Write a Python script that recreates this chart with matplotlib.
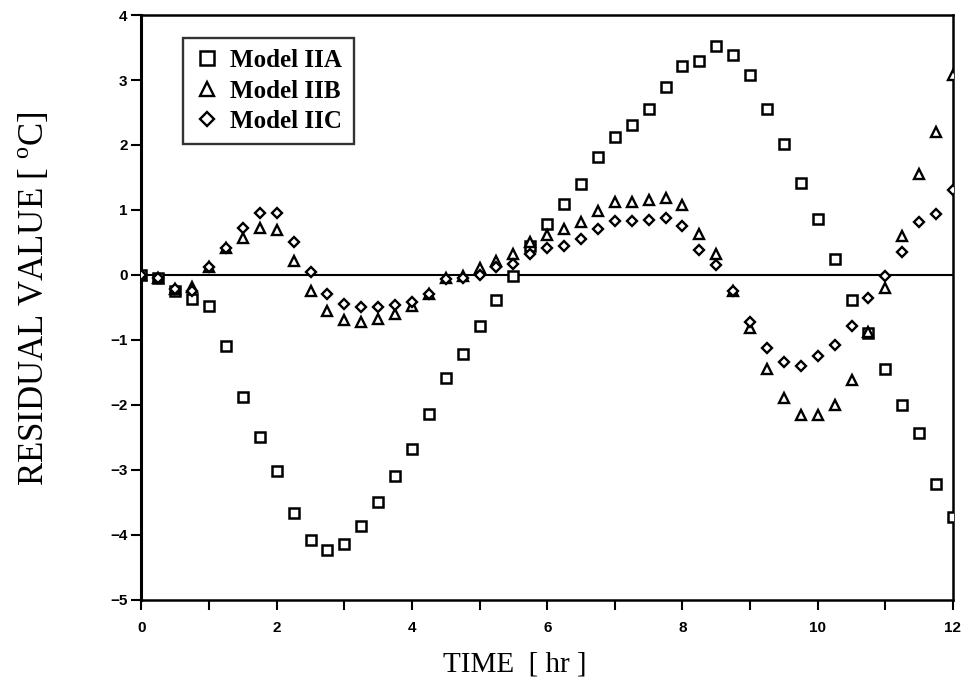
import matplotlib
matplotlib.use("Agg")
import matplotlib.pyplot as plt
from matplotlib.font_manager import FontProperties

plt.rcParams["mathtext.fontset"] = "custom"
plt.rcParams["mathtext.rm"] = "Liberation Serif"

# residuals sampled every quarter hour
time_hr = [0.0, 0.25, 0.5, 0.75, 1.0, 1.25, 1.5, 1.75, 2.0, 2.25, 2.5, 2.75,
           3.0, 3.25, 3.5, 3.75, 4.0, 4.25, 4.5, 4.75, 5.0, 5.25, 5.5, 5.75,
           6.0, 6.25, 6.5, 6.75, 7.0, 7.25, 7.5, 7.75, 8.0, 8.25, 8.5, 8.75,
           9.0, 9.25, 9.5, 9.75, 10.0, 10.25, 10.5, 10.75, 11.0, 11.25, 11.5,
           11.75, 12.0]

model_iia = [0.0, -0.04, -0.24, -0.37, -0.47, -1.10, -1.87, -2.50, -3.01, -3.66,
             -4.07, -4.23, -4.14, -3.86, -3.49, -3.10, -2.67, -2.14, -1.59, -1.22,
             -0.79, -0.39, -0.02, 0.45, 0.79, 1.09, 1.40, 1.81, 2.13, 2.31, 2.55,
             2.89, 3.22, 3.30, 3.53, 3.38, 3.07, 2.55, 2.01, 1.42, 0.86, 0.25,
             -0.38, -0.90, -1.45, -2.00, -2.43, -3.22, -3.72]

model_iib = [0.0, -0.04, -0.22, -0.18, 0.13, 0.41, 0.57, 0.73, 0.69, 0.21,
             -0.25, -0.55, -0.69, -0.72, -0.67, -0.60, -0.48, -0.29, -0.05, -0.02,
             0.10, 0.22, 0.32, 0.50, 0.62, 0.70, 0.82, 0.98, 1.13, 1.13, 1.16,
             1.18, 1.07, 0.63, 0.32, -0.25, -0.82, -1.45, -1.89, -2.15, -2.15,
             -2.00, -1.62, -0.88, -0.20, 0.60, 1.55, 2.20, 3.08]

model_iic = [0.0, -0.04, -0.22, -0.25, 0.13, 0.41, 0.72, 0.96, 0.95, 0.50,
             0.05, -0.29, -0.44, -0.49, -0.49, -0.46, -0.42, -0.29, -0.06, -0.05,
             0.00, 0.12, 0.17, 0.33, 0.41, 0.45, 0.55, 0.70, 0.83, 0.83, 0.84,
             0.87, 0.76, 0.39, 0.16, -0.25, -0.72, -1.12, -1.34, -1.40, -1.25,
             -1.07, -0.79, -0.36, -0.02, 0.35, 0.81, 0.94, 1.31]

x_ticks = [0, 2, 4, 6, 8, 10, 12]
x_minor = [1, 3, 5, 7, 9, 11]
y_ticks = [4, 3, 2, 1, 0, -1, -2, -3, -4, -5]

fig = plt.figure(figsize=(9.71, 6.85), dpi=100)
ax = fig.add_axes([0.1457, 0.1241, 0.8357, 0.854])

ax.axhline(0, color="black", lw=1.5, zorder=1)

mk = dict(ls="none", mfc="white", mec="black", zorder=3)
ax.plot(time_hr, model_iia, marker="s", ms=7.5, mew=1.8, label="Model IIA", **mk)
ax.plot(time_hr, model_iib, marker="^", ms=7.5, mew=1.7, label="Model IIB", **mk)
ax.plot(time_hr, model_iic, marker="D", ms=5.4, mew=1.7, label="Model IIC", **mk)

ax.set_xlim(0, 12)
ax.set_ylim(-5, 4)
ax.set_xticks(x_ticks)
ax.set_xticks(x_minor, minor=True)
ax.set_yticks(y_ticks)

for s in ax.spines.values():
    s.set_linewidth(1.8)
ax.spines["left"].set_linewidth(2.2)

tick_fp = FontProperties(family="Liberation Sans", weight="bold", size=11)
ax.tick_params(axis="both", which="both", direction="out", length=7, width=1.5,
               top=False, right=False)
ax.tick_params(axis="x", pad=8)
ax.tick_params(axis="y", pad=3)
for lbl in ax.get_xticklabels() + ax.get_yticklabels():
    lbl.set_fontproperties(tick_fp)

ax.set_xlabel("TIME  [ hr ]", family="Liberation Serif", size=21)
ax.xaxis.set_label_coords(0.46, -0.088)
ax.set_ylabel(r"RESIDUAL VALUE [ $^{\mathrm{o}}$C]", family="Liberation Serif",
              size=25)
ax.yaxis.set_label_coords(-0.11, 0.515)

leg = ax.legend(loc="upper left", bbox_to_anchor=(0.051, 0.961), borderaxespad=0,
                frameon=True, fancybox=False, handlelength=1.0, handletextpad=0.45,
                labelspacing=0.3, borderpad=0.45, markerscale=1.25,
                prop=dict(family="Liberation Serif", weight="bold", size=18))
leg.get_frame().set_edgecolor("black")
leg.get_frame().set_linewidth(1.7)

fig.savefig("out.png", dpi=100)
